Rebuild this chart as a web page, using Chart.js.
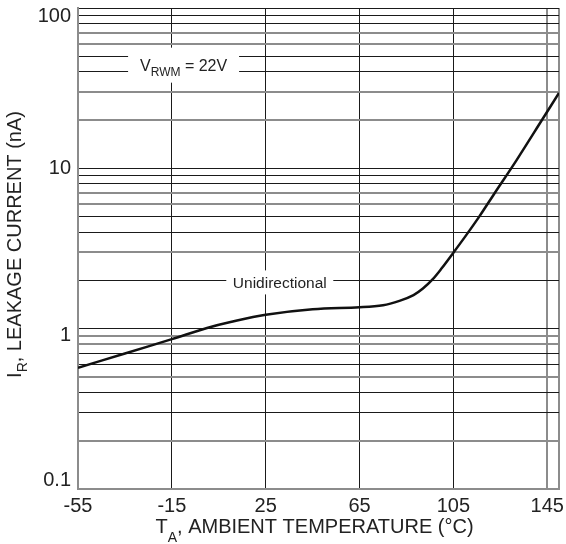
<!DOCTYPE html>
<html><head><meta charset="utf-8">
<script src="https://cdn.jsdelivr.net/npm/chart.js@4"></script>
<style>html,body{margin:0;padding:0;background:#fff}canvas{display:block}</style>
</head><body>
<canvas id="c" width="566" height="544"></canvas>
<script>
// ---- data ----
const temperatures = [-55, -35, -15, 0, 10, 25, 45, 65, 75, 82, 88, 92, 96, 100, 105, 110, 116, 122, 132, 143, 150];
const leakage      = [0.57, 0.70, 0.86, 1.01, 1.10, 1.22, 1.32, 1.36, 1.40, 1.49, 1.62, 1.78, 2.02, 2.38, 2.98, 3.75, 5.0, 6.8, 11.3, 20.3, 29.5];
const xTickValues = [-55, -15, 25, 65, 105, 145];
const xMin = -55, xMax = 150;
const yMajorTicks = [0.1, 1, 10, 100];
const yTickLabels = ['0.1', '1', '10', '100'];
const yMinorMultipliers = [2, 3, 4, 5, 6, 7, 8, 9];
const grayYLines = [70, 60, 30, 20, 7, 6, 3, 0.9, 0.8, 0.5, 0.2];
const grayXLines = [145, 150];

const FONT = '"Liberation Sans", Arial, Helvetica, sans-serif';
const TEXT = '#222';
const GRAY = '#8c8c8c';
const BLACK = '#1a1a1a';

function yTickValues() {
  const out = [];
  for (let i = 0; i < yMajorTicks.length; i++) {
    const d = yMajorTicks[i];
    out.push(d);
    if (i < yMajorTicks.length - 1) {
      yMinorMultipliers.forEach(m => out.push(parseFloat((m * d).toPrecision(3))));
    }
  }
  return out.sort((a, b) => a - b);
}
const isGrayY = v => grayYLines.some(g => Math.abs(g - v) < 1e-9);

function drawParts(ctx, parts, x, y, align) {
  let total = 0;
  parts.forEach(p => { ctx.font = p.size + 'px ' + FONT; p.w = ctx.measureText(p.t).width; total += p.w; });
  let cx = align === 'center' ? x - total / 2 : (align === 'right' ? x - total : x);
  parts.forEach(p => {
    ctx.font = p.size + 'px ' + FONT;
    ctx.fillText(p.t, cx, y + (p.dy || 0));
    cx += p.w;
  });
  return total;
}

// vertical nudges of the y tick labels, as in the reference
const yLabelNudge = {'0.1': -9, '1': 7, '10': 0, '100': 8};

const textPlugin = {
  id: 'textPlugin',
  beforeDatasetsDraw(chart) {
    const ctx = chart.ctx, xs = chart.scales.x, ys = chart.scales.y;
    ctx.save();
    ctx.textBaseline = 'alphabetic';
    // V_RWM = 22V label
    let cx = xs.getPixelForValue(-10), cy = ys.getPixelForValue(44);
    ctx.fillStyle = '#fff';
    ctx.fillRect(cx - 55.5, cy - 17.5, 111, 35);
    ctx.fillStyle = TEXT;
    drawParts(ctx, [{t:'V', size:16}, {t:'RWM', size:12, dy:5}, {t:' = 22V', size:16}], cx, cy + 6, 'center');
    // Unidirectional label
    cx = xs.getPixelForValue(31); cy = ys.getPixelForValue(2) + 2;
    ctx.fillStyle = '#fff';
    ctx.fillRect(cx - 53.5, cy - 12, 107, 24);
    ctx.fillStyle = TEXT;
    drawParts(ctx, [{t:'Unidirectional', size:15.5}], cx, cy + 5.5, 'center');
    ctx.restore();
  },
  afterDraw(chart) {
    const ctx = chart.ctx, a = chart.chartArea, ys = chart.scales.y;
    ctx.save();
    ctx.fillStyle = TEXT;
    // y tick labels
    ctx.textBaseline = 'middle';
    ctx.textAlign = 'right';
    ctx.font = '20px ' + FONT;
    yMajorTicks.forEach((v, i) => {
      const lbl = yTickLabels[i];
      ctx.fillText(lbl, a.left - 7, ys.getPixelForValue(v) + yLabelNudge[lbl]);
    });
    ctx.textAlign = 'left';
    ctx.textBaseline = 'alphabetic';
    // x title
    drawParts(ctx, [{t:'T', size:20}, {t:'A', size:14, dy:9}, {t:', AMBIENT TEMPERATURE (°C)', size:20}],
      (a.left + a.right) / 2 - 4, 533, 'center');
    // y title
    ctx.translate(21, (a.top + a.bottom) / 2 - 4);
    ctx.rotate(-Math.PI / 2);
    drawParts(ctx, [{t:'I', size:20}, {t:'R', size:14, dy:6}, {t:', LEAKAGE CURRENT (nA)', size:20}], 0, 0, 'center');
    ctx.restore();
  }
};

new Chart(document.getElementById('c'), {
  type: 'line',
  data: {
    datasets: [{
      data: temperatures.map((t, i) => ({x: t, y: leakage[i]})),
      borderColor: '#111',
      borderWidth: 2.5,
      pointRadius: 0,
      tension: 0.35,
      fill: false
    }]
  },
  options: {
    responsive: false,
    animation: false,
    devicePixelRatio: 1,
    layout: {padding: {top: 8, right: 7, left: 0, bottom: 0}},
    plugins: {legend: {display: false}, tooltip: {enabled: false}},
    scales: {
      x: {
        type: 'linear', min: xMin, max: xMax,
        afterBuildTicks: s => { s.ticks = [...xTickValues, xMax].map(v => ({value: v})); },
        afterFit: s => { s.height = 55; },
        ticks: {
          autoSkip: false, maxRotation: 0, padding: 5, color: TEXT,
          font: {family: FONT, size: 20},
          callback: v => xTickValues.includes(v) ? String(v) : ''
        },
        grid: {
          drawTicks: false,
          color: c => grayXLines.includes(c.tick && c.tick.value) || (c.tick && c.tick.value === xMin) ? GRAY : BLACK,
          lineWidth: c => grayXLines.includes(c.tick && c.tick.value) ? 2 : 1
        },
        border: {color: GRAY, width: 2}
      },
      y: {
        type: 'logarithmic', min: 0.1, max: 100,
        afterBuildTicks: s => { s.ticks = yTickValues().map(v => ({value: v})); },
        afterFit: s => { s.width = 78; },
        ticks: {display: false, autoSkip: false},
        grid: {
          drawTicks: false,
          color: c => isGrayY(c.tick.value) || Math.abs(c.tick.value - 0.1) < 1e-9 ? GRAY : BLACK,
          lineWidth: c => isGrayY(c.tick.value) ? 2 : 1
        },
        border: {color: GRAY, width: 2}
      }
    }
  },
  plugins: [textPlugin]
});
</script>
</body></html>
